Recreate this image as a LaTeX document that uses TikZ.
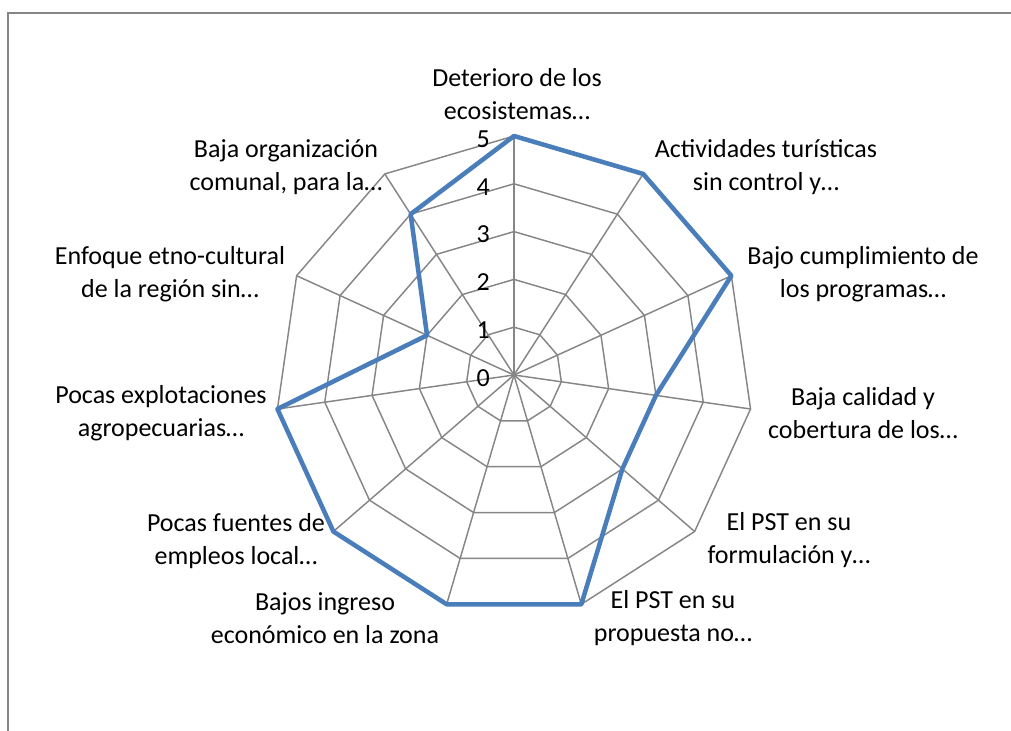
\documentclass[tikz,border=0pt]{standalone}
\usepackage{fontspec}
\setmainfont{Carlito}
\definecolor{gridc}{HTML}{868686}
\definecolor{serc}{HTML}{4A7EBB}
\begin{document}
\begin{tikzpicture}[x=0.75pt,y=0.75pt,
  gridline/.style={draw=gridc,line width=1.1pt},
  frameline/.style={draw=gridc,line width=1.1pt},
  series/.style={draw=serc,line width=3.4pt,line join=round},
  cat/.style={align=center,font=\fontsize{19.5}{24.75}\selectfont,inner sep=0pt},
  val/.style={anchor=east,font=\fontsize{19.5}{24}\selectfont,inner sep=0pt}]
\useasboundingbox (0,0) rectangle (1011,731);
\draw[frameline] (8,0) -- (8,718) -- (1011,718);
\coordinate (O) at (514,356);
% rings
\foreach \k in {1,...,5}{
  \pgfmathsetmacro{\r}{47.8*\k}
  \draw[gridline,shift={(O)}] (90:\r) \foreach \i in {1,...,10}{ -- ({90-\i*360/11}:\r)} -- cycle;
}
% spokes
\foreach \i in {0,...,10}{
  \path[shift={(O)}] ({90-\i*360/11}:239) coordinate (a\i);
  \draw[gridline] (O) -- (a\i);
}
% value labels
\foreach \k in {0,...,5}{
  \node[val] (v\k) at (490,{356+47.8*\k-3}) {\k};
}
% series
\foreach \v [count=\i from 0] in {5,5,5,3,3,5,5,5,5,2,4}{
  \path[shift={(O)}] ({90-\i*360/11}:{47.8*\v}) coordinate (s\i);
}
\draw[series] (s0) -- (s1) -- (s2) -- (s3) -- (s4) -- (s5) -- (s6) -- (s7) -- (s8) -- (s9) -- (s10) -- cycle;
% category labels
\node[cat] (c0) at (517,637) {Deterioro de los\\ecosistemas…};
\node[cat] (c1) at (766,564) {Actividades turísticas\\sin control y…};
\node[cat] (c2) at (863,457) {Bajo cumplimiento de\\los programas…};
\node[cat] (c3) at (863,318) {Baja calidad y\\cobertura de los…};
\node[cat] (c4) at (789,191) {El PST en su\\formulación y…};
\node[cat] (c5) at (673,113) {El PST en su\\propuesta no…};
\node[cat] (c6) at (325,113) {Bajos ingreso\\económico en la zona};
\node[cat] (c7) at (236,190) {Pocas fuentes de\\empleos local…};
\node[cat] (c8) at (161,318) {Pocas explotaciones\\agropecuarias…};
\node[cat] (c9) at (170,457) {Enfoque etno-cultural\\de la región sin…};
\node[cat] (c10) at (286,564) {Baja organización\\comunal, para la…};
\end{tikzpicture}
\end{document}
